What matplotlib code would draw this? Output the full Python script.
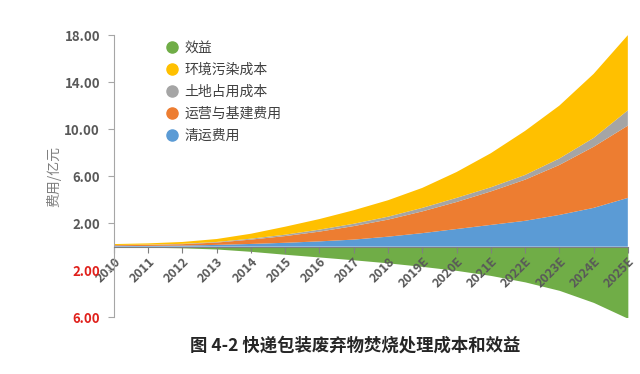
import numpy as np
import matplotlib
matplotlib.use('Agg')
import matplotlib.pyplot as plt
import matplotlib.transforms as mtransforms
from matplotlib.lines import Line2D

plt.rcParams['font.family'] = ['Noto Sans CJK SC', 'DejaVu Sans']

years = ['2010', '2011', '2012', '2013', '2014', '2015', '2016', '2017', '2018',
         '2019E', '2020E', '2021E', '2022E', '2023E', '2024E', '2025E']

# costs (100 million yuan), stacked from bottom
qingyun = [0.05, 0.06, 0.09, 0.15, 0.23, 0.33, 0.45, 0.6, 0.85, 1.15, 1.5, 1.85, 2.2, 2.7, 3.3, 4.15]
yunying = [0.07, 0.09, 0.12, 0.2, 0.37, 0.57, 0.83, 1.15, 1.45, 1.85, 2.3, 2.85, 3.5, 4.25, 5.2, 6.15]
tudi = [0.02, 0.02, 0.03, 0.05, 0.08, 0.12, 0.17, 0.2, 0.25, 0.3, 0.35, 0.35, 0.4, 0.55, 0.75, 1.3]
huanjing = [0.08, 0.11, 0.16, 0.25, 0.42, 0.68, 0.9, 1.15, 1.4, 1.7, 2.2, 2.9, 3.75, 4.5, 5.45, 6.4]
# benefit, drawn below zero
xiaoyi = [-0.05, -0.05, -0.1, -0.2, -0.4, -0.65, -0.88, -1.12, -1.38, -1.68, -2.02, -2.45, -3.0, -3.72, -4.75, -6.1]

names = ['效益', '环境污染成本', '土地占用成本', '运营与基建费用', '清运费用']
c_green = '#70AD47'
c_yellow = '#FFC000'
c_gray = '#A5A5A5'
c_orange = '#ED7D31'
c_blue = '#5B9BD5'

fig = plt.figure(figsize=(6.4, 3.74), dpi=100)
ax = fig.add_axes([0.178, 0.152, 0.803, 0.754])

x = np.arange(len(years))
ax.stackplot(x, qingyun, yunying, tudi, huanjing,
             colors=[c_blue, c_orange, c_gray, c_yellow], linewidth=0)
ax.fill_between(x, 0, xiaoyi, color=c_green, linewidth=0)

ax.set_xlim(0, len(years) - 1)
ax.set_ylim(-6, 18)

for s in ['top', 'right']:
    ax.spines[s].set_visible(False)
ax.spines['left'].set_color('#A6A6A6')
ax.spines['bottom'].set_position(('data', 0))
ax.spines['bottom'].set_color('#7F7F7F')

yt = [18, 14, 10, 6, 2, -2, -6]
ax.set_yticks(yt)
ax.set_yticklabels(['%.2f' % abs(v) for v in yt], fontweight='bold', fontsize=9.5)
for lab, v in zip(ax.get_yticklabels(), yt):
    lab.set_color('#E0201B' if v < 0 else '#595959')
ax.tick_params(axis='y', length=4, color='#A6A6A6', pad=6)

ax.set_xticks(x)
ax.set_xticklabels(years, rotation=45, ha='right', va='top', rotation_mode='anchor',
                   fontweight='bold', fontsize=9, color='#595959')
offset = mtransforms.ScaledTranslation(8 / 100, 0, fig.dpi_scale_trans)
for lab in ax.get_xticklabels():
    lab.set_transform(lab.get_transform() + offset)
ax.tick_params(axis='x', length=4, color='#7F7F7F', pad=2)

ax.set_ylabel('费用/亿元', fontsize=10, color='#7F7F7F', labelpad=2)

handles = [Line2D([], [], marker='o', linestyle='', markersize=8, color=c)
           for c in [c_green, c_yellow, c_gray, c_orange, c_blue]]
leg = ax.legend(handles, names, loc='upper left', bbox_to_anchor=(0.072, 1.025),
                frameon=False, fontsize=10, handletextpad=0.3, labelspacing=0.58,
                handlelength=1.2)
for t in leg.get_texts():
    t.set_color('#404040')

fig.text(0.555, 0.075, '图 4-2 快递包装废弃物焚烧处理成本和效益', ha='center', va='center',
         fontsize=12.5, fontweight='bold', color='#262626')

fig.savefig('out.png', dpi=100)
